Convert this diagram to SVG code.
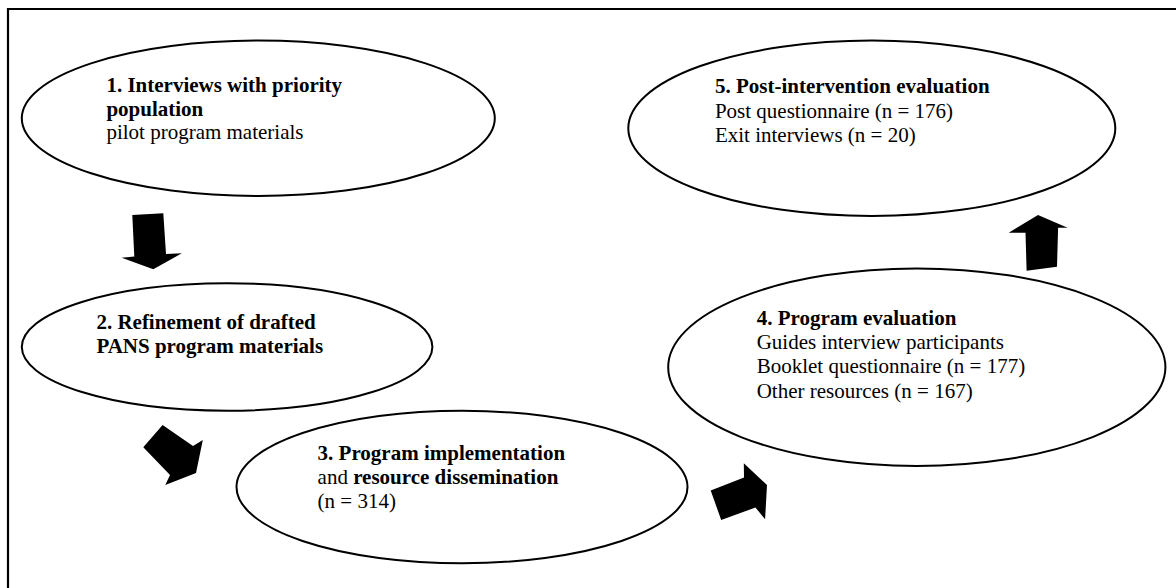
<svg xmlns="http://www.w3.org/2000/svg" width="1176" height="588" viewBox="0 0 1176 588">
<style>
.n{fill:#fff;stroke:#000;stroke-width:2}
.t{font-family:"Liberation Serif","Times New Roman",serif;font-size:21px;fill:#000}
.b{font-weight:bold}
.a{fill:#000;stroke:none}
</style>
<rect x="0" y="0" width="1176" height="588" fill="#fff"/>
<path d="M8 600 V9 H1190" fill="none" stroke="#000" stroke-width="2.2"/>
<g id="node1">
<ellipse class="n" cx="258.3" cy="118.3" rx="236.5" ry="77.7"/>
<text class="t" x="106.4" y="91.7"><tspan class="b">1. Interviews with priority</tspan><tspan class="b" x="106.4" y="115.5">population</tspan><tspan x="106.4" y="139.3">pilot program materials</tspan></text>
</g>
<g id="node2">
<ellipse class="n" cx="227.1" cy="347" rx="205.3" ry="63.7"/>
<text class="t b" x="96.4" y="329.3">2. Refinement of drafted<tspan x="96.4" y="353.3">PANS program materials</tspan></text>
</g>
<g id="node3">
<ellipse class="n" cx="462" cy="487" rx="225.5" ry="76.3"/>
<text class="t" x="317.6" y="460"><tspan class="b">3. Program implementation</tspan><tspan x="317.6" y="484.3">and </tspan><tspan class="b">resource dissemination</tspan><tspan x="317.6" y="508.3">(n = 314)</tspan></text>
</g>
<g id="node4">
<ellipse class="n" cx="916.8" cy="367.2" rx="248.6" ry="98.8"/>
<text class="t" x="756.7" y="325"><tspan class="b">4. Program evaluation</tspan><tspan x="756.7" y="349.2">Guides interview participants</tspan><tspan x="756.7" y="373.4">Booklet questionnaire (n = 177)</tspan><tspan x="756.7" y="397.6">Other resources (n = 167)</tspan></text>
</g>
<g id="node5">
<ellipse class="n" cx="871.8" cy="128.3" rx="243.5" ry="87.7"/>
<text class="t" x="714.9" y="93.3"><tspan class="b">5. Post-intervention evaluation</tspan><tspan x="714.9" y="117.5">Post questionnaire (n = 176)</tspan><tspan x="714.9" y="141.7">Exit interviews (n = 20)</tspan></text>
</g>
<g id="connectors">
<polygon class="a" points="132.3,215 163.3,213.3 166,254 181.8,253.3 153.3,269.3 121.7,257.8 134.3,256.5"/>
<polygon class="a" points="162.6,425 193,446 202.8,440 196,473 165.3,485 170,475 143.3,447.3"/>
<polygon class="a" points="710.7,490.5 744,477.5 743.8,463.3 767,485 765.1,519.3 755.5,507.5 721.2,520"/>
<polygon class="a" points="1026.6,270.7 1025.5,232.7 1008.7,232.7 1038,215 1067.6,227.7 1058.1,227.7 1057,266.7"/>
</g>
</svg>
